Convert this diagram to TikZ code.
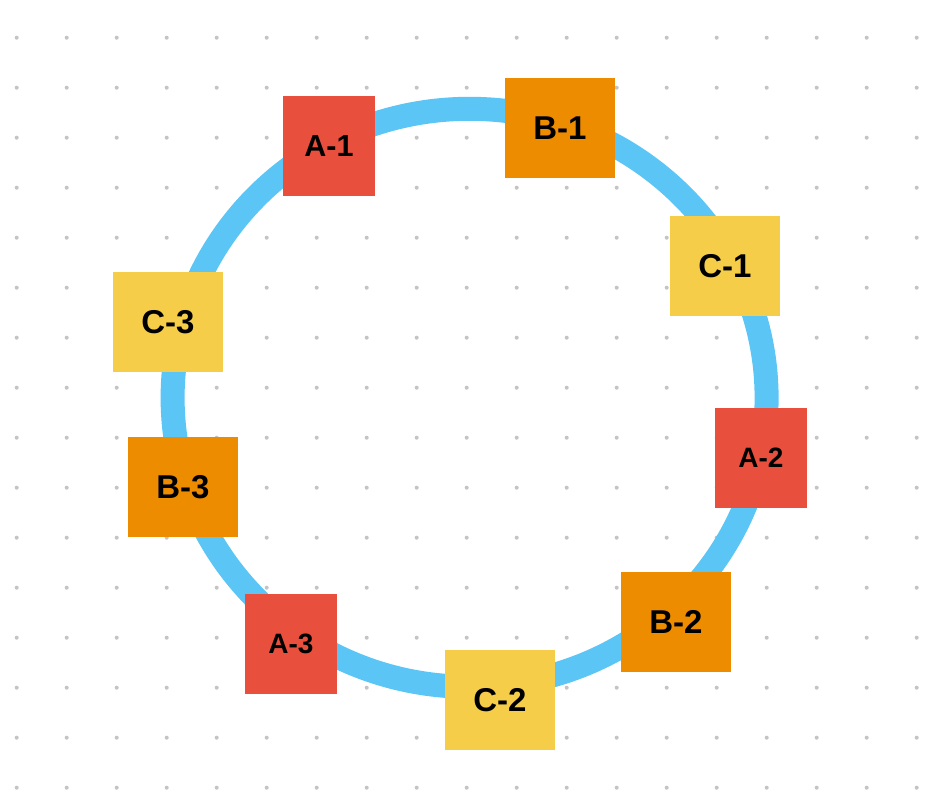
\documentclass[tikz,border=0pt]{standalone}
\usepackage{fontspec}
\setmainfont{Liberation Sans}
\definecolor{redc}{HTML}{E94F3D}
\definecolor{orangec}{HTML}{EE8C00}
\definecolor{yellowc}{HTML}{F6CD48}
\definecolor{bluec}{HTML}{5BC5F6}
\definecolor{dotc}{HTML}{C4C4C4}
\tikzset{
  box/.style={rectangle, minimum height=100pt, inner sep=0pt, text=black, font=\bfseries\fontsize{33}{33}\selectfont},
  abox/.style={box, fill=redc, minimum width=92pt},
  bbox/.style={box, fill=orangec, minimum width=110pt},
  cbox/.style={box, fill=yellowc, minimum width=110pt},
  smallfont/.style={font=\bfseries\fontsize{28}{28}\selectfont},
  midfont/.style={font=\bfseries\fontsize{30.5}{30.5}\selectfont},
  ring/.style={draw=bluec, line width=24pt}
}
\begin{document}
\begin{tikzpicture}[x=1pt,y=-1pt]
\useasboundingbox (0,0) rectangle (930,802);
\fill[white] (0,0) rectangle (930,802);
\foreach \i in {0,...,18}{
  \foreach \j in {0,...,15}{
    \fill[dotc] (16.7+50*\i,37.7+50*\j) circle (2);
  }
}
\coordinate (ctr) at (469.6,397.8);
\draw[ring] (ctr) ellipse [x radius=297, y radius=289];
\node[abox, midfont] (a1) at (329,146) {A-1};
\node[bbox] (b1) at (560,128) {B-1};
\node[cbox] (c1) at (725,266) {C-1};
\node[abox, smallfont] (a2) at (761,458) {A-2};
\node[bbox] (b2) at (676,622) {B-2};
\node[cbox] (c2) at (500,700) {C-2};
\node[abox, smallfont] (a3) at (291,644) {A-3};
\node[bbox] (b3) at (183,487) {B-3};
\node[cbox] (c3) at (168,322) {C-3};
\end{tikzpicture}
\end{document}
